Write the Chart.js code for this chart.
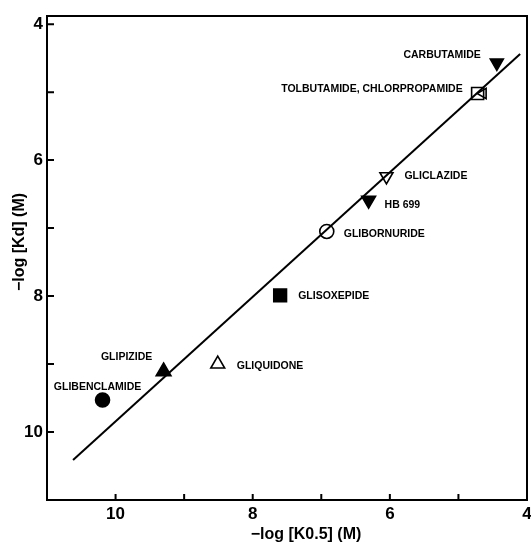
<!DOCTYPE html>
<html>
<head>
<meta charset="utf-8">
<script src="https://cdn.jsdelivr.net/npm/chart.js@4/dist/chart.umd.min.js"></script>
<style>
  html, body { margin: 0; padding: 0; background: #fff; }
  #wrap { width: 531px; height: 543px; }
</style>
</head>
<body>
<div id="wrap"><canvas id="c" width="531" height="543"></canvas></div>
<script>
// Sulfonylureas: binding affinity (-log Kd) versus half-maximal effect (-log K0.5)
const compounds = ['CARBUTAMIDE', 'TOLBUTAMIDE', 'CHLORPROPAMIDE', 'GLICLAZIDE', 'HB 699',
                   'GLIBORNURIDE', 'GLISOXEPIDE', 'GLIPIZIDE', 'GLIQUIDONE', 'GLIBENCLAMIDE'];
const logK05 = [4.44, 4.72, 4.64, 6.05, 6.31, 6.92, 7.60, 9.30, 8.51, 10.19];
const logKd  = [4.57, 5.02, 5.02, 6.24, 6.59, 7.05, 7.99, 9.11, 9.00, 9.53];
const compoundLabels = ['CARBUTAMIDE', 'TOLBUTAMIDE, CHLORPROPAMIDE', '', 'GLICLAZIDE', 'HB 699',
                        'GLIBORNURIDE', 'GLISOXEPIDE', 'GLIPIZIDE', 'GLIQUIDONE', 'GLIBENCLAMIDE'];

// Regression line end points
const fitLineK05 = [10.62, 4.10];
const fitLineKd  = [10.41, 4.44];

// Axis ticks and labelled ticks
const xTickValues = [4, 5, 6, 7, 8, 9, 10, 11];
const yTickValues = [4, 5, 6, 7, 8, 9, 10, 11];
const labelledTicks = [4, 6, 8, 10];

// Marker styles, one per compound
const markerStyle = [
  { shape: 'triangle', rot: 180, r: 7.5, fill: '#000' },      // carbutamide
  { shape: 'rect',     rot: 0,   r: 8.5, fill: '#fff' },      // tolbutamide
  { shape: 'triangle', rot: 270, r: 6,   fill: 'rgba(0,0,0,0)' }, // chlorpropamide
  { shape: 'triangle', rot: 180, r: 7.5, fill: '#fff' },      // gliclazide
  { shape: 'triangle', rot: 180, r: 8,   fill: '#000' },      // HB 699
  { shape: 'circle',   rot: 0,   r: 7,   fill: '#fff' },      // glibornuride
  { shape: 'rect',     rot: 0,   r: 9,   fill: '#000' },      // glisoxepide
  { shape: 'triangle', rot: 0,   r: 8.5, fill: '#000' },      // glipizide
  { shape: 'triangle', rot: 0,   r: 8,   fill: '#fff' },      // gliquidone
  { shape: 'circle',   rot: 0,   r: 7,   fill: '#000' }       // glibenclamide
];

// Text placement relative to each marker: [dx, dy, align]
const labelPlacement = [
  [-16, -8, 'right'],
  [-15, -4, 'right'],
  [0, 0, 'left'],
  [18, 0, 'left'],
  [16, 5, 'left'],
  [17, 3, 'left'],
  [18, 1, 'left'],
  [-37, -14, 'center'],
  [19, 2, 'left'],
  [-5, -13, 'center']
];

const FONT = "'Liberation Sans', Arial, sans-serif";

const figureDecor = {
  id: 'figureDecor',
  afterDraw(chart) {
    const ctx = chart.ctx;
    const a = chart.chartArea;
    const xs = chart.scales.x, ys = chart.scales.y;
    ctx.save();
    ctx.strokeStyle = '#000';
    ctx.lineWidth = 2;
    // frame
    ctx.strokeRect(a.left, a.top, a.right - a.left, a.bottom - a.top);
    // inward tick marks
    ctx.beginPath();
    xTickValues.forEach(v => {
      const px = xs.getPixelForValue(v);
      ctx.moveTo(px, a.bottom);
      ctx.lineTo(px, a.bottom - 6);
    });
    yTickValues.forEach(v => {
      const py = ys.getPixelForValue(v);
      ctx.moveTo(a.left, py);
      ctx.lineTo(a.left + 7, py);
    });
    ctx.stroke();

    // axis titles
    ctx.fillStyle = '#000';
    ctx.font = `bold 16px ${FONT}`;
    ctx.textAlign = 'center';
    ctx.textBaseline = 'middle';
    ctx.fillText('\u2212log [K0.5] (M)', 306, 535);
    ctx.save();
    ctx.translate(20, 242);
    ctx.rotate(-Math.PI / 2);
    ctx.fillText('\u2212log [Kd] (M)', 0, 0);
    ctx.restore();

    // compound names
    const meta = chart.getDatasetMeta(1);
    ctx.font = `bold 10.5px ${FONT}`;
    ctx.textBaseline = 'middle';
    meta.data.forEach((pt, i) => {
      const txt = compoundLabels[i];
      if (!txt) return;
      const [dx, dy, align] = labelPlacement[i];
      ctx.textAlign = align;
      ctx.fillText(txt, pt.x + dx, pt.y + dy);
    });
    ctx.restore();
  }
};

new Chart(document.getElementById('c'), {
  type: 'scatter',
  data: {
    datasets: [
      {
        type: 'line',
        data: fitLineK05.map((x, i) => ({ x, y: fitLineKd[i] })),
        borderColor: '#000',
        borderWidth: 2,
        pointRadius: 0,
        fill: false
      },
      {
        data: logK05.map((x, i) => ({ x, y: logKd[i] })),
        pointStyle: markerStyle.map(m => m.shape),
        pointRotation: markerStyle.map(m => m.rot),
        pointRadius: markerStyle.map(m => m.r),
        pointBackgroundColor: markerStyle.map(m => m.fill),
        pointBorderColor: '#000',
        pointBorderWidth: 1.6
      }
    ]
  },
  options: {
    responsive: false,
    animation: false,
    devicePixelRatio: 1,
    layout: { autoPadding: false, padding: { top: 16, right: 4, left: 0, bottom: 0 } },
    plugins: { legend: { display: false }, tooltip: { enabled: false } },
    scales: {
      x: {
        type: 'linear',
        reverse: true,
        min: 4,
        max: 11,
        grid: { display: false, drawTicks: false },
        border: { display: false },
        afterBuildTicks: s => { s.ticks = xTickValues.map(v => ({ value: v })); },
        afterFit: s => { s.height = 43; s.paddingLeft = 0; s.paddingRight = 0; },
        ticks: {
          autoSkip: false,
          maxRotation: 0,
          padding: 4,
          color: '#000',
          font: { family: FONT, weight: 'bold', size: 17 },
          callback: v => labelledTicks.includes(v) ? String(v) : ''
        }
      },
      y: {
        type: 'linear',
        reverse: true,
        min: 3.88,
        max: 11,
        grid: { display: false, drawTicks: false },
        border: { display: false },
        afterBuildTicks: s => { s.ticks = yTickValues.map(v => ({ value: v })); },
        afterFit: s => { s.width = 47; s.paddingTop = 0; s.paddingBottom = 0; },
        ticks: {
          autoSkip: false,
          padding: 4,
          color: '#000',
          font: { family: FONT, weight: 'bold', size: 17 },
          callback: v => labelledTicks.includes(v) ? String(v) : ''
        }
      }
    }
  },
  plugins: [figureDecor]
});
</script>
</body>
</html>
